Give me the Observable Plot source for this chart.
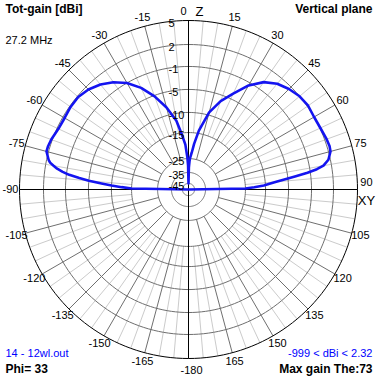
<!DOCTYPE html>
<html><head><meta charset="utf-8">
<script src="https://cdn.jsdelivr.net/npm/d3@7"></script>
<script src="https://cdn.jsdelivr.net/npm/@observablehq/plot@0.6"></script>
<style>
html,body{margin:0;padding:0;background:#fff;}
#chart{width:377px;height:377px;}
</style></head><body><div id="chart"></div>
<script>
// ---- data ----
const ringDb     = [-45, -35, -25, -15, -10, -5, -1, 2, 5];
const ringLabels = ["-45", "-35", "-25", "-15", "-10", "-5", "-1", "2", "5"];
// radial position of each ring as a fraction of the outer circle (MMANA log-like scale)
const ringRadius = [0.036, 0.101, 0.183, 0.337, 0.456, 0.592, 0.728, 0.858, 1];

const angleTicks  = [0, 15, 30, 45, 60, 75, 90, 105, 120, 135, 150, 165, 180, -165, -150, -135, -120, -105, -90, -75, -60, -45, -30, -15];
const angleLabels = ["0", "15", "30", "45", "60", "75", "90", "105", "120", "135", "150", "165", "-180", "-165", "-150", "-135", "-120", "-105", "-90", "-75", "-60", "-45", "-30", "-15"];

// Tot-gain (dBi) vs theta, vertical plane, Phi = 33
const thetaLeft = [-90, -89, -88, -87, -86, -85, -84, -83, -82, -81, -80, -79, -78, -75, -73, -70, -65, -60, -55, -50, -45, -40, -35, -30, -25, -20, -15, -10, -7, -4, -2, -1, 0];
const gainLeft  = [-999, -15, -12.5, -10, -7.8, -5, -3.3, -1.5, -0.45, 0.36, 0.91, 1.45, 1.73, 2.25, 2.25, 2.13, 1.8, 1.73, 1.86, 1.86, 1.52, 0.91, 0.09, -1, -2.9, -5.2, -8.3, -11.8, -15.4, -19.6, -24.6, -30, -45];
const thetaRight = [1, 2, 3, 5, 7, 10, 15, 20, 25, 30, 35, 40, 45, 50, 55, 60, 65, 70, 73, 75, 78, 80, 81, 82, 83, 84, 85, 86, 87, 88, 89, 90];
const gainRight  = [-31.4, -27.1, -24.6, -22.7, -19.2, -14.3, -9.4, -6.3, -4, -1.5, 0.1, 1.05, 1.6, 2.0, 2.13, 2.0, 2.06, 2.25, 2.32, 2.25, 1.73, 0.91, -0.05, -1.5, -3.6, -5.6, -7.6, -9.1, -10.4, -12.8, -15, -999];

const titleText = "Tot-gain [dBi]";
const planeText = "Vertical plane";
const freqText  = "27.2 MHz";
const fileText  = "14 - 12wl.out";
const phiText   = "Phi= 33";
const rangeText = "-999 < dBi < 2.32";
const maxText   = "Max gain The:73";

// ---- scales ----
const radial = Plot.scale({x: {type: "linear", domain: [-999, ...ringDb], range: [0, ...ringRadius], clamp: true}});
const rad = (d) => d * Math.PI / 180;
const px = (theta, r) => r * Math.sin(rad(theta));
const py = (theta, r) => r * Math.cos(rad(theta));

// rings
const ringPts = [];
ringDb.forEach((db, i) => {
  const r = radial.apply(db);
  for (let a = 0; a <= 360; a += 2) ringPts.push({ring: i, outer: db === 5, x: px(a, r), y: py(a, r)});
});

// spokes
const darkSpokes = [], lightSpokes = [];
const rDark = radial.apply(-25), rLight = radial.apply(-15), rOut = radial.apply(5);
for (let a = 0; a < 360; a += 5) {
  if (a % 90 === 0) continue;
  if (a % 15 === 0) darkSpokes.push({x1: px(a, rDark), y1: py(a, rDark), x2: px(a, rOut), y2: py(a, rOut)});
  else lightSpokes.push({x1: px(a, rLight), y1: py(a, rLight), x2: px(a, rOut), y2: py(a, rOut)});
}
const axes = [0, 90].map(a => ({x1: px(a, -rOut), y1: py(a, -rOut), x2: px(a, rOut), y2: py(a, rOut)}));

// pattern
const pattern = [...thetaLeft.map((t, i) => ({t, g: gainLeft[i]})), ...thetaRight.map((t, i) => ({t, g: gainRight[i]}))]
  .map(d => ({x: px(d.t, radial.apply(d.g)), y: py(d.t, radial.apply(d.g))}));

// angle labels
const rLab = 1.053;
const angLab = angleTicks.map((a, i) => ({a, label: angleLabels[i], x: px(a, rLab), y: py(a, rLab)}));
const angMain = angLab.filter(d => d.a !== 0 && d.a !== 90 && d.a !== 180);

const dbLab = ringDb.map((db, i) => ({x: 0, y: radial.apply(db), label: ringLabels[i]}));

const font = "'Liberation Sans', Arial, sans-serif";

const chart = Plot.plot({
  width: 377, height: 377,
  marginTop: 20, marginBottom: 19, marginLeft: 19, marginRight: 20,
  x: {domain: [-1, 1], axis: null},
  y: {domain: [-1, 1], axis: null},
  style: {fontFamily: font, fontSize: "11px", background: "#fff", color: "#000"},
  marks: [
    Plot.link(lightSpokes, {x1: "x1", y1: "y1", x2: "x2", y2: "y2", stroke: "#cbcbcb", strokeWidth: 1}),
    Plot.link(darkSpokes, {x1: "x1", y1: "y1", x2: "x2", y2: "y2", stroke: "#6f6f6f", strokeWidth: 1}),
    Plot.line(ringPts.filter(d => !d.outer), {x: "x", y: "y", z: "ring", stroke: "#6f6f6f", strokeWidth: 1}),
    Plot.line(ringPts.filter(d => d.outer), {x: "x", y: "y", z: "ring", stroke: "#000", strokeWidth: 1}),
    Plot.link(axes, {x1: "x1", y1: "y1", x2: "x2", y2: "y2", stroke: "#000", strokeWidth: 1}),
    Plot.line(pattern, {x: "x", y: "y", stroke: "#1414f0", strokeWidth: 2.6, strokeLinejoin: "round"}),
    Plot.text(dbLab, {x: "x", y: "y", text: "label", dx: -20, dy: 3, textAnchor: "start", lineAnchor: "middle", fill: "#000"}),
    Plot.text(angMain, {x: "x", y: "y", text: "label", textAnchor: "middle", lineAnchor: "middle", fill: "#000"}),
    Plot.text(angLab.filter(d => d.a === 0), {x: "x", y: "y", text: "label", dx: -5, textAnchor: "middle", lineAnchor: "middle", fill: "#000"}),
    Plot.text(angLab.filter(d => d.a === 0), {x: "x", y: "y", text: () => "Z", dx: 11, fontSize: 13, textAnchor: "middle", lineAnchor: "middle", fill: "#000"}),
    Plot.text(angLab.filter(d => d.a === 90), {x: "x", y: "y", text: "label", dy: -7, textAnchor: "middle", lineAnchor: "middle", fill: "#000"}),
    Plot.text(angLab.filter(d => d.a === 90), {x: "x", y: "y", text: () => "XY", dy: 11, fontSize: 13, textAnchor: "middle", lineAnchor: "middle", fill: "#000"}),
    Plot.text(angLab.filter(d => d.a === 180), {x: "x", y: "y", text: "label", dx: 3, dy: 3, textAnchor: "middle", lineAnchor: "middle", fill: "#000"}),
    Plot.text([titleText], {frameAnchor: "top-left", dx: -14, dy: -11, textAnchor: "start", lineAnchor: "middle", fontWeight: "bold", fontSize: 12, fill: "#000"}),
    Plot.text([planeText], {frameAnchor: "top-right", dx: 15, dy: -11, textAnchor: "end", lineAnchor: "middle", fontWeight: "bold", fontSize: 12, fill: "#000"}),
    Plot.text([freqText], {frameAnchor: "top-left", dx: -14, dy: 20, textAnchor: "start", lineAnchor: "middle", fill: "#000"}),
    Plot.text([fileText], {frameAnchor: "bottom-left", dx: -14, dy: -5, textAnchor: "start", lineAnchor: "middle", fill: "#0000ff"}),
    Plot.text([phiText], {frameAnchor: "bottom-left", dx: -14, dy: 11, textAnchor: "start", lineAnchor: "middle", fontWeight: "bold", fontSize: 12, fill: "#000"}),
    Plot.text([rangeText], {frameAnchor: "bottom-right", dx: 15, dy: -5, textAnchor: "end", lineAnchor: "middle", fill: "#0000ff"}),
    Plot.text([maxText], {frameAnchor: "bottom-right", dx: 15, dy: 11, textAnchor: "end", lineAnchor: "middle", fontWeight: "bold", fontSize: 12, fill: "#000"})
  ]
});
document.getElementById("chart").appendChild(chart);
</script>
</body></html>
